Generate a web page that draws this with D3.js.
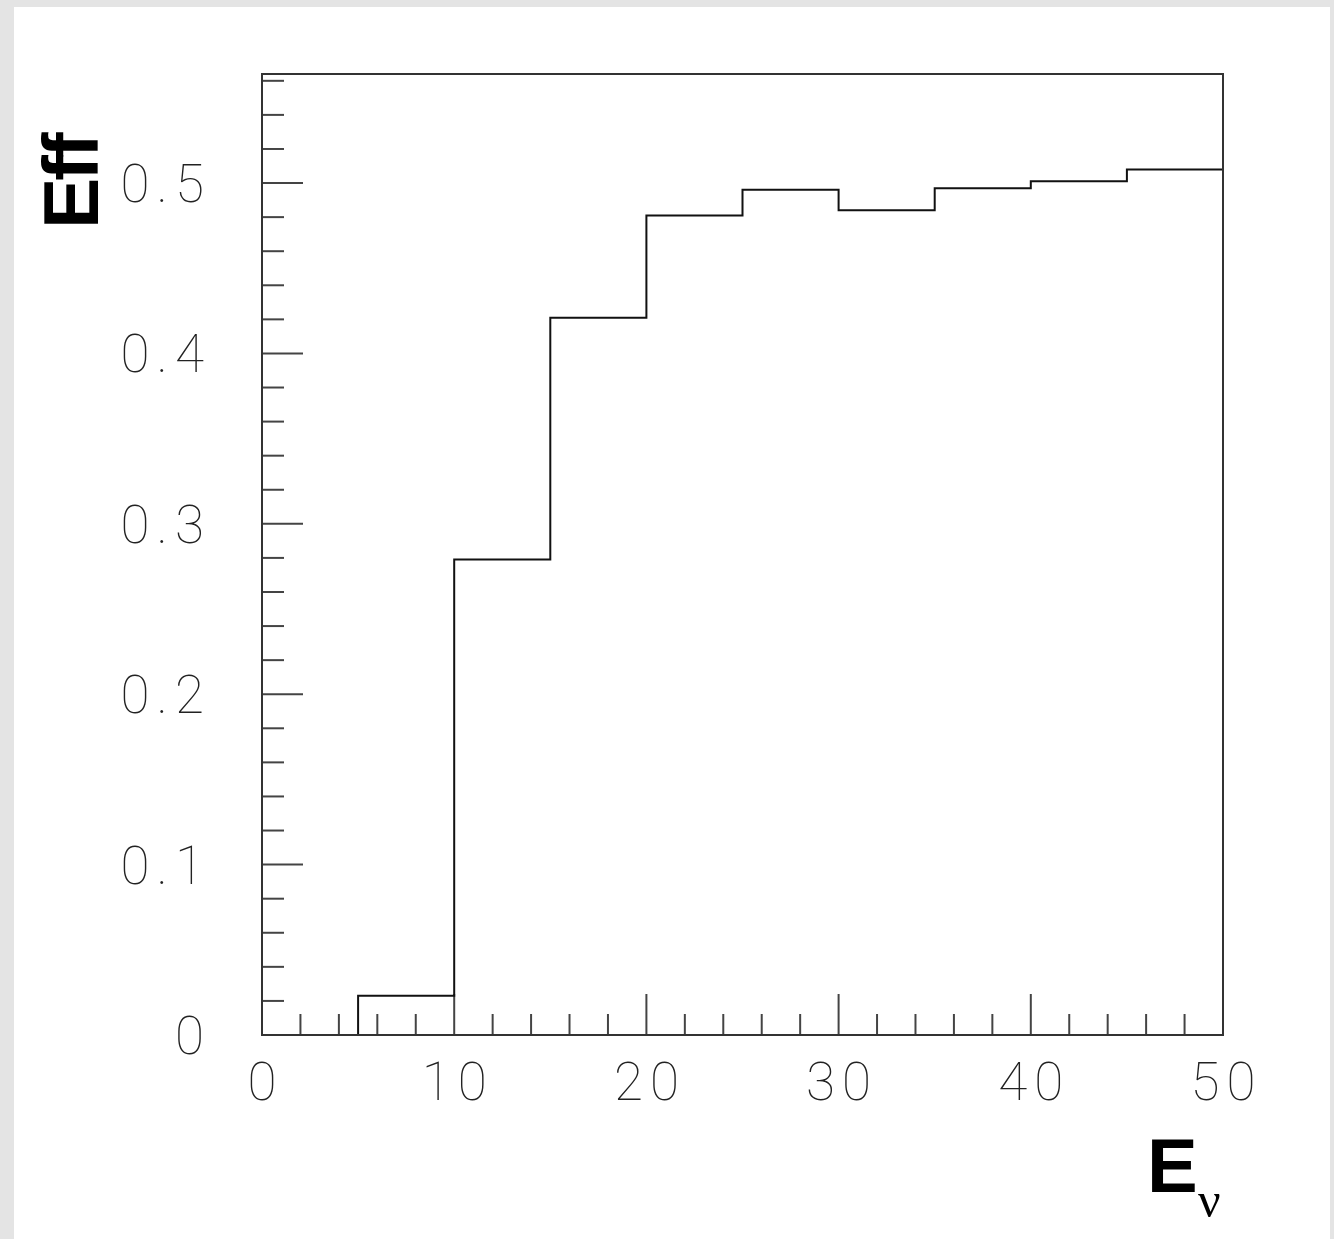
<!DOCTYPE html>
<html>
<head>
<meta charset="utf-8">
<script src="https://cdn.jsdelivr.net/npm/d3@7"></script>
<style>
  html, body { margin: 0; padding: 0; background: #e4e4e4; }
  svg { display: block; }
  .lbl { font-family: Roboto, "DejaVu Sans", sans-serif; font-weight: 100; fill: #222; }
</style>
</head>
<body>
<svg id="chart" width="1334" height="1239"></svg>
<script>
// Efficiency vs neutrino energy, 5-unit bins from 0 to 50
const binEdges = [0, 5, 10, 15, 20, 25, 30, 35, 40, 45, 50];
const efficiency = [0, 0.023, 0.279, 0.421, 0.481, 0.496, 0.484, 0.497, 0.501, 0.508];
const xTickLabels = ["0", "10", "20", "30", "40", "50"];
const yTickLabels = ["0", "0.1", "0.2", "0.3", "0.4", "0.5"];

const W = 1334, H = 1239;
const frame = { left: 262, right: 1223, top: 74, bottom: 1035 };
const yMax = 0.564;
const LS = 7; // letter spacing of tick labels

const svg = d3.select("#chart");

// paper area
svg.append("rect").attr("x", 0).attr("y", 0).attr("width", W).attr("height", H).attr("fill", "#e4e4e4");
svg.append("rect").attr("x", 14).attr("y", 7).attr("width", 1316).attr("height", H - 7).attr("fill", "#ffffff");

const x = d3.scaleLinear().domain([0, 50]).range([frame.left, frame.right]);
const y = d3.scaleLinear().domain([0, yMax]).range([frame.bottom, frame.top]);

const tickColor = "#444";

// x ticks: minor every 2, major every 10
const xMinor = d3.range(2, 50, 2).filter(v => v % 10 !== 0);
const xMajor = xTickLabels.map(Number);
svg.append("g").selectAll("line").data(xMinor).join("line")
  .attr("x1", d => x(d)).attr("x2", d => x(d))
  .attr("y1", frame.bottom).attr("y2", frame.bottom - 21)
  .attr("stroke", tickColor).attr("stroke-width", 2);
svg.append("g").selectAll("line").data(xMajor.filter(v => v > 0 && v < 50)).join("line")
  .attr("x1", d => x(d)).attr("x2", d => x(d))
  .attr("y1", frame.bottom).attr("y2", frame.bottom - 41)
  .attr("stroke", tickColor).attr("stroke-width", 2);

// y ticks: minor every 0.02, major every 0.1
const yMinor = d3.range(1, 29).map(i => +(i * 0.02).toFixed(2)).filter(v => Math.round(v * 100) % 10 !== 0);
const yMajor = yTickLabels.map(Number);
svg.append("g").selectAll("line").data(yMinor).join("line")
  .attr("x1", frame.left).attr("x2", frame.left + 22)
  .attr("y1", d => y(d)).attr("y2", d => y(d))
  .attr("stroke", tickColor).attr("stroke-width", 2);
svg.append("g").selectAll("line").data(yMajor.filter(v => v > 0)).join("line")
  .attr("x1", frame.left).attr("x2", frame.left + 41)
  .attr("y1", d => y(d)).attr("y2", d => y(d))
  .attr("stroke", tickColor).attr("stroke-width", 2);

// tick labels (trailing letter spacing compensated)
svg.append("g").selectAll("text").data(xTickLabels).join("text")
  .attr("class", "lbl")
  .attr("x", d => x(+d) + LS / 2).attr("y", 1100)
  .attr("text-anchor", "middle")
  .attr("font-size", 53).attr("letter-spacing", LS)
  .text(d => d);
svg.append("g").selectAll("text").data(yTickLabels).join("text")
  .attr("class", "lbl")
  .attr("x", 204 + LS).attr("y", d => y(+d) + 19)
  .attr("text-anchor", "end")
  .attr("font-size", 53).attr("letter-spacing", LS)
  .text(d => d);

// histogram outline
const pts = binEdges.slice(0, -1).map((e, i) => [e, efficiency[i]]);
pts.push([binEdges[binEdges.length - 1], efficiency[efficiency.length - 1]]);
const line = d3.line().x(d => x(d[0])).y(d => y(d[1])).curve(d3.curveStepAfter);
svg.append("path").attr("d", line(pts))
  .attr("fill", "none").attr("stroke", "#111").attr("stroke-width", 2);

// frame
svg.append("rect")
  .attr("x", frame.left).attr("y", frame.top)
  .attr("width", frame.right - frame.left).attr("height", frame.bottom - frame.top)
  .attr("fill", "none").attr("stroke", "#333").attr("stroke-width", 2);

// axis titles
svg.append("text")
  .attr("transform", "translate(98,229) rotate(-90)")
  .attr("font-family", "Liberation Sans, Arial, sans-serif")
  .attr("font-weight", "bold").attr("font-size", 77).attr("letter-spacing", -3)
  .attr("fill", "#000")
  .text("Eff");

svg.append("text")
  .attr("x", 1147).attr("y", 1192)
  .attr("font-family", "Liberation Sans, Arial, sans-serif")
  .attr("font-weight", "bold").attr("font-size", 76)
  .attr("fill", "#000")
  .text("E");
svg.append("text")
  .attr("x", 1198).attr("y", 1217)
  .attr("font-family", "Liberation Serif, Times New Roman, serif")
  .attr("font-size", 50)
  .attr("fill", "#000")
  .text("ν");
</script>
</body>
</html>
